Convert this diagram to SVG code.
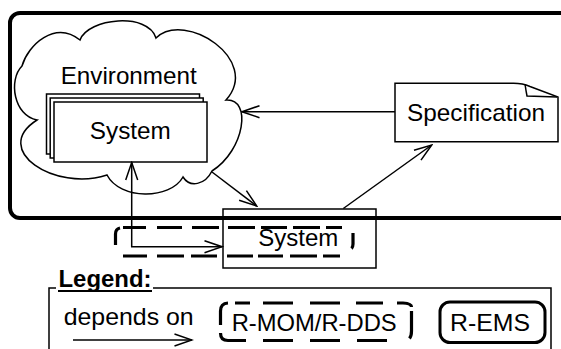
<svg xmlns="http://www.w3.org/2000/svg" width="561" height="349" viewBox="0 0 561 349">
<style>
text{font-family:"Liberation Sans",Arial,Helvetica,sans-serif;font-size:24px;fill:#000}
.thin{fill:#fff;stroke:#000;stroke-width:1.5}
.line{fill:none;stroke:#000;stroke-width:1.5}
.dash{fill:none;stroke:#000;stroke-width:3.2;stroke-linecap:butt}
</style>
<defs>
<marker id="open" viewBox="0 0 20 14" refX="18.5" refY="7" markerWidth="20" markerHeight="14" markerUnits="userSpaceOnUse" orient="auto-start-reverse">
<path d="M1,1 L18.5,7 L1,13" fill="none" stroke="#000" stroke-width="1.5"/>
</marker>
</defs>
<rect width="561" height="349" fill="#fff"/>
<g id="frame">
<rect x="10" y="13" width="590" height="205" rx="10" fill="none" stroke="#000" stroke-width="4"/>
</g>
<g id="environment">
<path class="thin" d="M80,40 C88,18 148,12 156,38 C185,10 262,60 226,100 C252,98 245,150 212,171 C205,185 190,188 183,177 C170,200 120,200 107,175 C55,192 -10,150 37,120 C14,116 8,80 22,66 C28,45 55,20 80,40 Z"/>
<text x="128.7" y="83.5" text-anchor="middle" textLength="136" lengthAdjust="spacingAndGlyphs">Environment</text>
</g>
<g id="system-stack">
<rect class="thin" x="46.5" y="94" width="153" height="60"/>
<rect class="thin" x="50.2" y="98" width="153" height="60"/>
<rect class="thin" x="54" y="102" width="153" height="60"/>
<text x="130.3" y="139" text-anchor="middle" textLength="81" lengthAdjust="spacingAndGlyphs">System</text>
</g>
<g id="specification">
<path class="thin" d="M395,83.3 H512 Q522,83 530,86.5 L558,97 V141.7 H395 Z"/>
<path class="line" d="M525,84 Q526,91 527,96 L557,97"/>
<text x="476" y="121" text-anchor="middle" textLength="138" lengthAdjust="spacingAndGlyphs">Specification</text>
</g>
<g id="system-lower">
<rect x="223" y="209" width="153" height="59" fill="none" stroke="#000" stroke-width="1.5"/>
<text x="298.3" y="245.5" text-anchor="middle" textLength="80" lengthAdjust="spacingAndGlyphs">System</text>
</g>
<g id="rmom-group">
<path class="dash" d="M120,228 Q115.5,229 115.5,234 V245 M123,227.5 H146 M157,227.5 H182 M192,227.5 H219 M228,227.5 H255 M261,227.5 H287 M293,227.5 H320 M326,227.5 H342 M123,256 H147 M157,256 H184 M191,256 H217 M227,256 H253 M258,256 H283 M290,256 H317 M323,256 H340 M353,233 V244 Q353,247 351.5,248.5"/>
</g>
<g id="connectors">
<line class="line" x1="395" y1="111.7" x2="242" y2="111.7" marker-end="url(#open)"/>
<line class="line" x1="212" y1="172" x2="256.7" y2="206" marker-end="url(#open)"/>
<line class="line" x1="343.3" y1="208.5" x2="431.7" y2="145" marker-end="url(#open)"/>
<path class="line" d="M131.7,162.5 V246.7 H222" marker-start="url(#open)" marker-end="url(#open)"/>
</g>
<g id="legend">
<path class="line" d="M56,288 H49 V360 M153,288 H551 V360"/>
<text x="105" y="286.5" text-anchor="middle" font-weight="bold" textLength="93" lengthAdjust="spacingAndGlyphs">Legend:</text>
<line x1="58" y1="291" x2="152" y2="291" stroke="#000" stroke-width="2"/>
<text x="128.7" y="325" text-anchor="middle" textLength="130" lengthAdjust="spacingAndGlyphs">depends on</text>
<line class="line" x1="73" y1="340" x2="192" y2="340" marker-end="url(#open)"/>
<path class="dash" d="M228,303 Q220.5,303.5 220.5,311 V325 M220.5,333 Q220.5,340.5 228,340.5 H246 M235,303 H250 M263,303 H293 M310,303 H340 M356,303 H383 M397,303 H403 Q411.5,303.5 411.5,307 M411.5,311 V331 Q411.5,336 409.5,338.5 M263,340.5 H293 M310,340.5 H340 M357,340.5 H387"/>
<text x="314.2" y="330.5" text-anchor="middle" textLength="165" lengthAdjust="spacingAndGlyphs">R-MOM/R-DDS</text>
<rect x="440" y="302" width="105" height="40.5" rx="10" fill="none" stroke="#000" stroke-width="3"/>
<text x="490" y="330.5" text-anchor="middle" textLength="80" lengthAdjust="spacingAndGlyphs">R-EMS</text>
</g>
</svg>
